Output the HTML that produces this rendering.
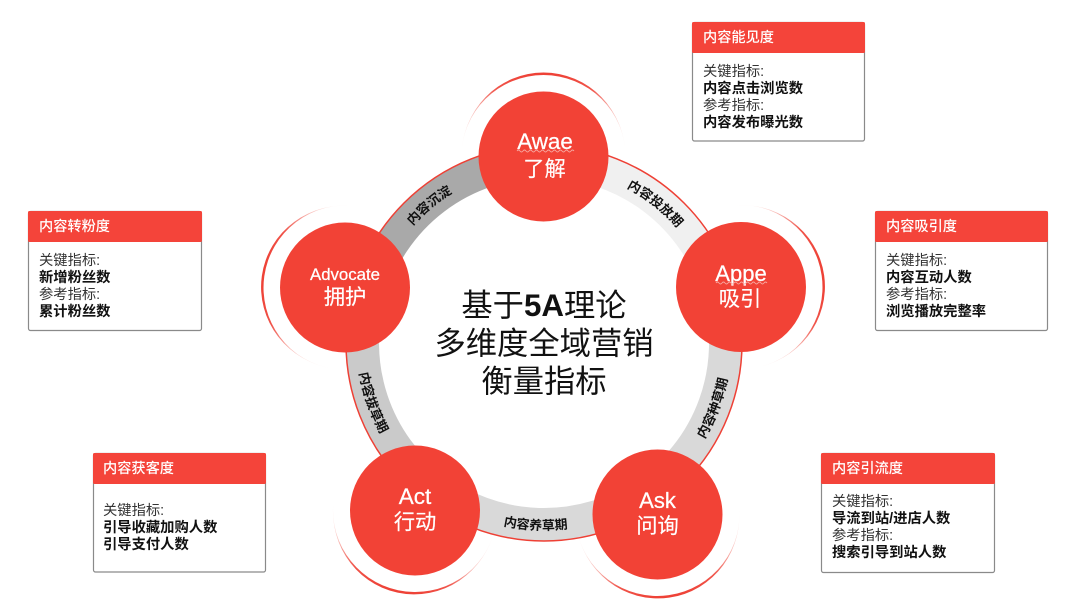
<!DOCTYPE html>
<html><head><meta charset="utf-8">
<style>
html,body{margin:0;padding:0;background:#fff;width:1080px;height:616px;overflow:hidden}
svg{display:block;filter:blur(.3px)}
text{font-family:"Liberation Sans","Noto Sans CJK SC",sans-serif}
.h{font-size:14.2px;fill:#fff;font-weight:500}
.b{font-size:14.3px;fill:#333}
.s{font-size:14.3px;fill:#111;font-weight:700}
.l{font-size:13px;fill:#111;font-weight:700;text-anchor:middle}
.en{fill:#fff;text-anchor:middle;stroke:#fff;stroke-width:.25}
.zh{fill:#fff;text-anchor:middle;font-size:21.3px;stroke:#fff;stroke-width:.15}
.c{font-size:31.3px;fill:#111;text-anchor:middle}
</style></head><body>
<svg width="1080" height="616" viewBox="0 0 1080 616" xmlns="http://www.w3.org/2000/svg">
<defs>
<linearGradient id="g" gradientUnits="userSpaceOnUse" x1="0" y1="-84" x2="0" y2="0">
<stop offset="0" stop-color="#ee4035"/><stop offset=".2" stop-color="#f0554b"/><stop offset=".45" stop-color="#f6a9a3" stop-opacity=".85"/><stop offset=".8" stop-color="#fbdcd9" stop-opacity=".3"/><stop offset="1" stop-color="#fbdcd9" stop-opacity="0"/>
</linearGradient>
<path id="cr" d="M-82 0A82 84 0 0 1 82 0A82 81.5 0 0 0 -82 0Z" fill="url(#g)"/>
<path id="p1" d="M570.3 169A176 176 0 0 1 707.9 278.8"/>
<path id="p2" d="M661.7 488.3A187 187 0 0 0 728.7 313.8"/>
<path id="p3" d="M443.2 500.5A187 187 0 0 0 630.1 509"/>
<path id="p4" d="M360.3 308A187 187 0 0 0 421.8 484.6"/>
<path id="p5" d="M378.8 282.2A176 176 0 0 1 514 169.6"/>
</defs>

<!-- ring -->
<g fill="none" stroke-width="33">
<path d="M544 161.5A181.5 181.5 0 0 1 718.5 293" stroke="#f0f0f0"/>
<path d="M718.5 293A181.5 181.5 0 0 1 645.5 493.5" stroke="#d9d9d9"/>
<path d="M645.5 493.5A181.5 181.5 0 0 1 433.5 487" stroke="#d9d9d9"/>
<path d="M433.5 487A181.5 181.5 0 0 1 369.3 293.9" stroke="#cacaca"/>
<path d="M369.3 293.9A181.5 181.5 0 0 1 544 161.5" stroke="#a9a9a9"/>
</g>
<circle cx="544" cy="343" r="198" fill="none" stroke="#ee4035" stroke-width="1.5"/>

<!-- ring labels -->
<text class="l"><textPath href="#p1" startOffset="50%">内容投放期</textPath></text>
<text class="l"><textPath href="#p2" startOffset="50%">内容种草期</textPath></text>
<text class="l"><textPath href="#p3" startOffset="50%">内容养草期</textPath></text>
<text class="l"><textPath href="#p4" startOffset="50%">内容拔草期</textPath></text>
<text class="l"><textPath href="#p5" startOffset="50%">内容沉淀</textPath></text>

<!-- crescents -->
<use href="#cr" transform="translate(543.5 156.5)"/>
<use href="#cr" transform="translate(741 287) rotate(82)"/>
<use href="#cr" transform="translate(657.5 514.5) rotate(172)"/>
<use href="#cr" transform="translate(415 510.5) rotate(192)"/>
<use href="#cr" transform="translate(345 287.5) rotate(-82)"/>

<!-- nodes -->
<g fill="#f24236">
<circle cx="543.5" cy="156.5" r="65"/>
<circle cx="741" cy="287" r="65"/>
<circle cx="657.5" cy="514.5" r="65"/>
<circle cx="415" cy="510.5" r="65"/>
<circle cx="345" cy="287.5" r="65"/>
</g>
<text class="en" x="545" y="149" font-size="22.4">Awae</text>
<path d="M517 151q1.5 -2 3 0t3 0t3 0t3 0t3 0t3 0t3 0t3 0t3 0t3 0t3 0t3 0t3 0t3 0t3 0t3 0t3 0t3 0t3 0" fill="none" stroke="#f7a7a0" stroke-width=".9"/>
<text class="zh" x="544.5" y="176">了解</text>
<text class="en" x="741" y="281" font-size="22">Appe</text>
<path d="M716 283q1.5 -2 3 0t3 0t3 0t3 0t3 0t3 0t3 0t3 0t3 0t3 0t3 0t3 0t3 0t3 0t3 0t3 0t3 0" fill="none" stroke="#f7a7a0" stroke-width=".9"/>
<text class="zh" x="740" y="306">吸引</text>
<text class="en" x="345" y="280" font-size="16.8">Advocate</text>
<text class="zh" x="345" y="304">拥护</text>
<text class="en" x="415" y="504" font-size="22.5" stroke-width=".4">Act</text>
<text class="zh" x="415" y="529">行动</text>
<text class="en" x="657.5" y="508" font-size="22" stroke-width=".4">Ask</text>
<text class="zh" x="657.5" y="533">问询</text>

<!-- centre -->
<text class="c" x="544" y="316">基于<tspan font-weight="700">5A</tspan>理论</text>
<text class="c" x="544" y="354">多维度全域营销</text>
<text class="c" x="544" y="392">衡量指标</text>

<!-- box 1 -->
<rect x="692.5" y="22.5" width="172" height="118.5" rx="2" fill="#fff" stroke="#8a8a8a" stroke-width="1.2"/>
<rect x="692" y="22" width="173" height="31" rx="1.5" fill="#f4443a"/>
<text class="h" x="703" y="42">内容能见度</text>
<text class="b" x="703" y="76">关键指标:</text>
<text class="s" x="703" y="93">内容点击浏览数</text>
<text class="b" x="703" y="110">参考指标:</text>
<text class="s" x="703" y="127">内容发布曝光数</text>

<!-- box 2 -->
<rect x="875.5" y="211.5" width="172" height="119" rx="2" fill="#fff" stroke="#8a8a8a" stroke-width="1.2"/>
<rect x="875" y="211" width="173" height="31" rx="1.5" fill="#f4443a"/>
<text class="h" x="886" y="231">内容吸引度</text>
<text class="b" x="886" y="265">关键指标:</text>
<text class="s" x="886" y="282">内容互动人数</text>
<text class="b" x="886" y="299">参考指标:</text>
<text class="s" x="886" y="316">浏览播放完整率</text>

<!-- box 3 -->
<rect x="821.5" y="453.5" width="173" height="119" rx="2" fill="#fff" stroke="#8a8a8a" stroke-width="1.2"/>
<rect x="821" y="453" width="174" height="31" rx="1.5" fill="#f4443a"/>
<text class="h" x="832" y="473">内容引流度</text>
<text class="b" x="832" y="506">关键指标:</text>
<text class="s" x="832" y="523">导流到站/进店人数</text>
<text class="b" x="832" y="540">参考指标:</text>
<text class="s" x="832" y="557">搜索引导到站人数</text>

<!-- box 4 -->
<rect x="93.5" y="453.5" width="172" height="118.5" rx="2" fill="#fff" stroke="#8a8a8a" stroke-width="1.2"/>
<rect x="93" y="453" width="173" height="31" rx="1.5" fill="#f4443a"/>
<text class="h" x="103" y="473">内容获客度</text>
<text class="b" x="103" y="515">关键指标:</text>
<text class="s" x="103" y="532">引导收藏加购人数</text>
<text class="s" x="103" y="549">引导支付人数</text>

<!-- box 5 -->
<rect x="28.5" y="211.5" width="173" height="119" rx="2" fill="#fff" stroke="#8a8a8a" stroke-width="1.2"/>
<rect x="28" y="211" width="174" height="31" rx="1.5" fill="#f4443a"/>
<text class="h" x="39" y="231">内容转粉度</text>
<text class="b" x="39" y="265">关键指标:</text>
<text class="s" x="39" y="282">新增粉丝数</text>
<text class="b" x="39" y="299">参考指标:</text>
<text class="s" x="39" y="316">累计粉丝数</text>
</svg>
</body></html>
